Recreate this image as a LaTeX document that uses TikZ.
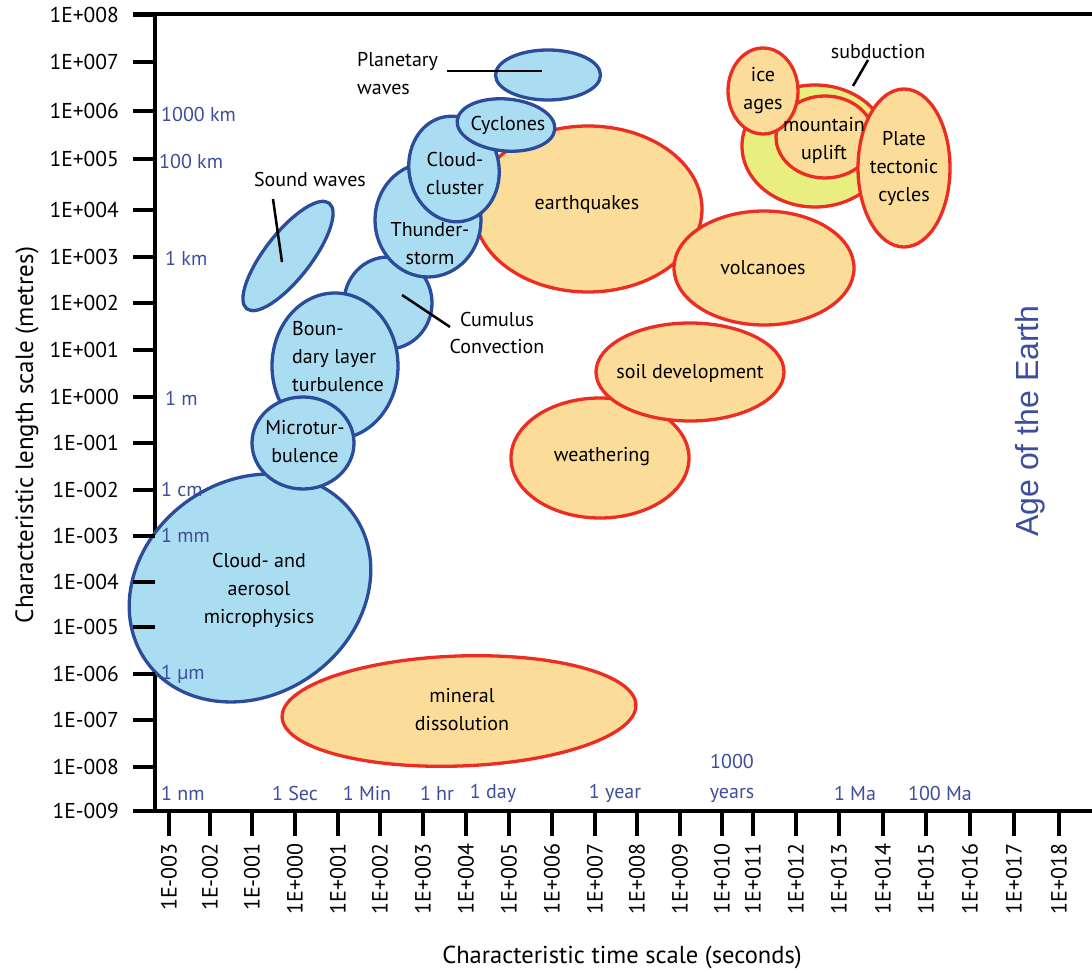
\documentclass[tikz,border=0pt]{standalone}
\usepackage{fontspec}
\setmainfont{PT Sans}
\newfontfamily\arialfont{Liberation Sans}
\usetikzlibrary{shapes.geometric}
\definecolor{bfill}{RGB}{171,221,242}
\definecolor{bline}{RGB}{43,76,155}
\definecolor{ofill}{RGB}{251,220,152}
\definecolor{oline}{RGB}{236,45,35}
\definecolor{yfill}{RGB}{232,238,128}
\definecolor{btext}{RGB}{60,78,156}
\tikzset{
  blob/.style={ellipse, inner sep=0pt, line width=3.3pt},
  bblob/.style={blob, draw=bline, fill=bfill},
  oblob/.style={blob, draw=oline, fill=ofill},
  lbl/.style={font=\fontsize{20}{28}\selectfont, align=center, inner sep=0pt, text=black},
  scl/.style={font=\fontsize{20}{30}\selectfont, text=btext, inner sep=0pt, align=center},
  tk/.style={line width=3.5pt},
  axisline/.style={line width=3.5pt},
  leader/.style={line width=2.5pt, black},
  ytl/.style={font=\fontsize{21.5}{24}\selectfont, inner sep=0pt, anchor=east},
  xtl/.style={font=\fontsize{22}{24}\selectfont, inner sep=0pt, anchor=east, rotate=90},
}
\begin{document}
\begin{tikzpicture}[x=1pt,y=-1pt]
\useasboundingbox (0,0) rectangle (1092,973);
\fill[white] (0,0) rectangle (1092,973);
% axes
\draw[axisline] (155,14) -- (155,811);
\draw[axisline] (133,14) -- (1092,14);
\draw[axisline] (133,811) -- (1092,811);
% orange blobs
\node[oblob, minimum width=228pt, minimum height=166pt] (eq) at (588,209) {};
\node[oblob, minimum width=180pt, minimum height=114pt] (vo) at (764,268) {};
\node[oblob, minimum width=178pt, minimum height=120pt] (we) at (600,458) {};
\node[oblob, minimum width=188pt, minimum height=98pt] (so) at (690,372) {};
\node[blob, draw=oline, fill=yfill, minimum width=146pt, minimum height=122pt] (sd) at (815,146) {};
\node[oblob, minimum width=98pt, minimum height=82pt] (mu) at (825,137) {};
\node[oblob, minimum width=70pt, minimum height=86pt] (ia) at (763,91) {};
\node[oblob, minimum width=92pt, minimum height=158pt] (pt) at (904,168) {};
% blue blobs
\node[bblob, minimum width=134pt, minimum height=46pt, rotate=52] (sw) at (288,256) {};
\node[bblob, minimum width=254pt, minimum height=214pt, rotate=35] (ca) at (250,588) {};
\node[bblob, minimum width=88pt, minimum height=92pt] (cu) at (388,303) {};
\node[bblob, minimum width=126pt, minimum height=146pt] (bl) at (335,366) {};
\node[bblob, minimum width=102pt, minimum height=92pt] (mt) at (303,443) {};
\node[bblob, minimum width=106pt, minimum height=114pt] (ts) at (428,220) {};
\node[bblob, minimum width=90pt, minimum height=106pt, rotate=10] (cc) at (454,169) {};
\node[bblob, minimum width=105pt, minimum height=50pt] (pw) at (548,75) {};
\node[bblob, minimum width=98pt, minimum height=52pt, rotate=-5] (cy) at (506,125) {};
\node[oblob, minimum width=354pt, minimum height=110pt, rotate=2] (md) at (459,711) {};
% y ticks and labels
\foreach \y/\t [count=\k] in {15/1E+008, 62/1E+007, 111/1E+006, 159/1E+005, 210/1E+004, 257/1E+003, 303/1E+002, 350/1E+001, 397/1E+000, 443/1E-001, 490/1E-002, 536/1E-003, 582/1E-004, 627/1E-005, 674/1E-006, 720/1E-007, 767/1E-008, 811/1E-009}{
  \draw[tk] (133,\y) -- (155,\y);
  \node[ytl] (yl\k) at (119,\y) {\t};
}
% x ticks and labels
\foreach \x/\t [count=\k] in {169/1E-003, 210/1E-002, 252/1E-001, 295/1E+000, 338/1E+001, 380/1E+002, 423/1E+003, 466/1E+004, 509/1E+005, 552/1E+006, 595/1E+007, 637/1E+008, 680/1E+009, 722/1E+010, 753/1E+011, 796/1E+012, 839/1E+013, 883/1E+014, 926/1E+015, 970/1E+016, 1014/1E+017, 1059/1E+018}{
  \draw[tk] (\x,811) -- (\x,836);
  \node[xtl] (xl\k) at (\x,843) {\t};
}
% axis titles
\node[font=\fontsize{25}{26}\selectfont, rotate=90, inner sep=0pt] (ytitle) at (27,435) {Characteristic length scale (metres)};
\node[font=\fontsize{24.5}{26}\selectfont, inner sep=0pt] (xtitle) at (622,957) {Characteristic time scale (seconds)};
\node[font=\arialfont\fontsize{32}{34}\selectfont, text=btext, rotate=90, inner sep=0pt] (age) at (1030,421) {Age of the Earth};
% blue scale labels
\node[scl, anchor=west] (s1) at (161,115) {1000 km};
\node[scl, anchor=west] (s2) at (159,162) {100 km};
\node[scl, anchor=west] (s3) at (165,258) {1 km};
\node[scl, anchor=west] (s4) at (165,398) {1 m};
\node[scl, anchor=west] (s5) at (161,489) {1 cm};
\node[scl, anchor=west] (s6) at (161,535) {1 mm};
\node[scl, anchor=west] (s7) at (161,674) {1 µm};
\node[scl, anchor=west] (s8) at (161,793) {1 nm};
\node[scl] (t1) at (295,793) {1 Sec};
\node[scl] (t2) at (367,793) {1 Min};
\node[scl] (t3) at (437,793) {1 hr};
\node[scl] (t4) at (493,793) {1 day};
\node[scl] (t5) at (615,793) {1 year};
\node[scl, anchor=south] (t6) at (732,803) {1000\\years};
\node[scl] (t7) at (855,793) {1 Ma};
\node[scl] (t8) at (940,793) {100 Ma};
% labels
\node[lbl] (swl) at (310,180) {Sound waves};
\node[lbl, align=left, anchor=west] (pwl) at (357,74) {Planetary\\waves};
\node[lbl] (cyl) at (508,125) {Cyclones};
\node[lbl] (ccl) at (455,174) {Cloud-\\cluster};
\node[lbl] (tsl) at (430,244) {Thunder-\\storm};
\node[lbl] (cul) at (497,333) {Cumulus\\Convection};
\node[lbl, align=left, anchor=west] (bll) at (292,357) {Boun-\\dary layer\\turbulence};
\node[lbl] (mtl) at (305,442) {Microtur-\\bulence};
\node[lbl] (cal) at (259,590) {Cloud- and\\aerosol\\microphysics};
\node[lbl] (eql) at (587,205) {earthquakes};
\node[lbl] (vol) at (763,268) {volcanoes};
\node[lbl] (sol) at (690,373) {soil development};
\node[lbl] (wel) at (602,457) {weathering};
\node[lbl] (mdl) at (462,710) {mineral\\dissolution};
\node[lbl] (ial) at (763,91) {ice\\ages};
\node[lbl] (mul) at (824,140) {mountain\\uplift};
\node[lbl] (ptl) at (904,168) {Plate\\tectonic\\cycles};
\node[lbl] (sdl) at (878,52) {subduction};
% leader lines
\coordinate (sw1) at (273,199); \coordinate (sw2) at (282,262);
\draw[leader] (sw1) -- (sw2);
\coordinate (pw1) at (447,71); \coordinate (pw2) at (542,71);
\draw[leader] (pw1) -- (pw2);
\coordinate (cu1) at (402,295); \coordinate (cu2) at (450,327);
\draw[leader] (cu1) -- (cu2);
\coordinate (sd1) at (868,60); \coordinate (sd2) at (853,86);
\draw[leader] (sd1) -- (sd2);
\end{tikzpicture}
\end{document}
